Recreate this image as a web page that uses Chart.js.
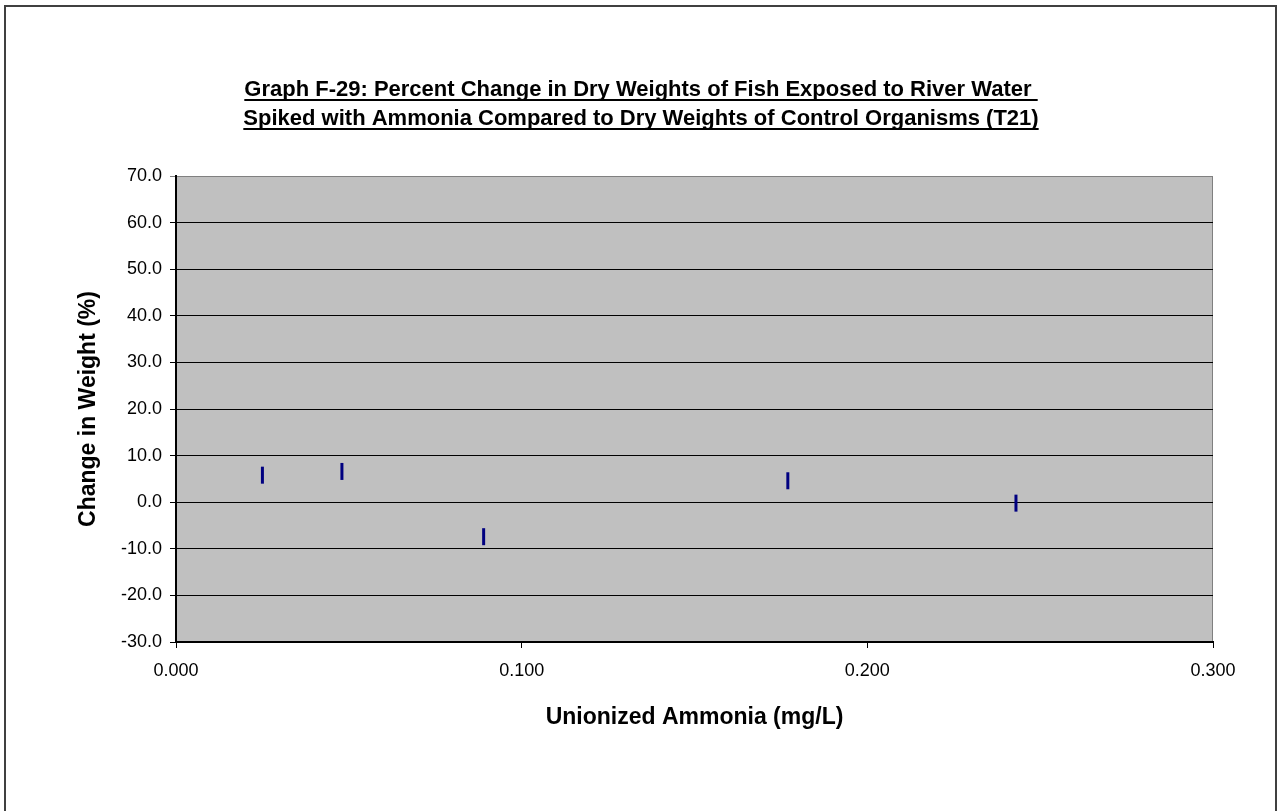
<!DOCTYPE html>
<html>
<head>
<meta charset="utf-8">
<script src="https://cdn.jsdelivr.net/npm/chart.js@4/dist/chart.umd.min.js"></script>
<style>
  html, body { margin: 0; padding: 0; background: #fff; }
  #wrap { width: 1278px; height: 811px; position: relative; }
</style>
</head>
<body>
<div id="wrap"><canvas id="c" width="1278" height="811"></canvas></div>
<script>
const titleLines = [
  "Graph F-29: Percent Change in Dry Weights of Fish Exposed to River Water ",
  "Spiked with Ammonia Compared to Dry Weights of Control Organisms (T21)"
];
const xTitle = "Unionized Ammonia (mg/L)";
const yTitle = "Change in Weight (%)";
const ammonia = [0.025, 0.048, 0.089, 0.177, 0.243];
const weightChange = [5.8, 6.6, -7.4, 4.6, -0.2];

const FONT = "'Liberation Sans', Arial, sans-serif";

const framePlugin = {
  id: 'frame',
  beforeDraw(chart) {
    const {ctx, chartArea: a} = chart;
    ctx.save();
    ctx.fillStyle = '#fff';
    ctx.fillRect(0, 0, chart.width, chart.height);
    ctx.fillStyle = '#C0C0C0';
    ctx.fillRect(a.left, a.top, a.right - a.left, a.bottom - a.top);
    ctx.strokeStyle = '#808080';
    ctx.lineWidth = 1;
    ctx.strokeRect(a.left + 0.5, a.top + 0.5, a.right - a.left - 1, a.bottom - a.top - 1);
    ctx.restore();
  },
  afterDraw(chart) {
    const {ctx} = chart;
    ctx.save();
    ctx.strokeStyle = '#404040';
    ctx.lineWidth = 2;
    ctx.strokeRect(5, 6, 1271, 900);
    // title
    ctx.fillStyle = '#000';
    ctx.font = "bold 22px " + FONT;
    ctx.textAlign = 'left';
    ctx.textBaseline = 'alphabetic';
    const cx = 641;
    const baselines = [96, 125];
    titleLines.forEach((t, i) => {
      const w = ctx.measureText(t).width;
      const x0 = cx - w / 2;
      ctx.fillText(t, x0, baselines[i]);
      ctx.fillRect(x0, baselines[i] + 3, w, 2);
    });
    ctx.restore();
  }
};

new Chart(document.getElementById('c'), {
  type: 'scatter',
  data: {
    datasets: [{
      data: ammonia.map((x, i) => ({x: x, y: weightChange[i]})),
      showLine: false,
      pointStyle: 'line',
      rotation: 90,
      radius: 8.5,
      hoverRadius: 8.5,
      borderWidth: 3,
      borderColor: '#000080',
      backgroundColor: '#000080'
    }]
  },
  options: {
    responsive: false,
    animation: false,
    layout: { padding: { left: 70, right: 65, top: 176, bottom: 79 } },
    plugins: { legend: { display: false }, title: { display: false }, tooltip: { enabled: false } },
    scales: {
      x: {
        type: 'linear',
        min: 0, max: 0.3,
        afterFit(s) { s.height = 90; },
        ticks: {
          stepSize: 0.1,
          color: '#000',
          padding: 12,
          font: { family: FONT, size: 18 },
          callback: v => Number(v).toFixed(3)
        },
        grid: { drawOnChartArea: false, drawTicks: true, tickLength: 6, color: '#000' },
        border: { color: '#000', width: 2 },
        title: {
          display: true, text: xTitle, color: '#000',
          font: { family: FONT, size: 23, weight: 'bold' },
          padding: { top: 0, bottom: 1 }
        }
      },
      y: {
        type: 'linear',
        min: -30, max: 70,
        afterFit(s) { s.width = 106; },
        ticks: {
          stepSize: 10,
          color: '#000',
          padding: 8,
          font: { family: FONT, size: 18 },
          callback: v => Number(v).toFixed(1)
        },
        grid: {
          drawTicks: true, tickLength: 6,
          color: c => (c.tick && c.tick.value === 70) ? '#808080' : '#000',
          lineWidth: 1
        },
        border: { color: '#000', width: 2 },
        title: {
          display: true, text: yTitle, color: '#000',
          font: { family: FONT, size: 23, weight: 'bold' },
          padding: { top: 5, bottom: 0 }
        }
      }
    }
  },
  plugins: [framePlugin]
});
</script>
</body>
</html>
